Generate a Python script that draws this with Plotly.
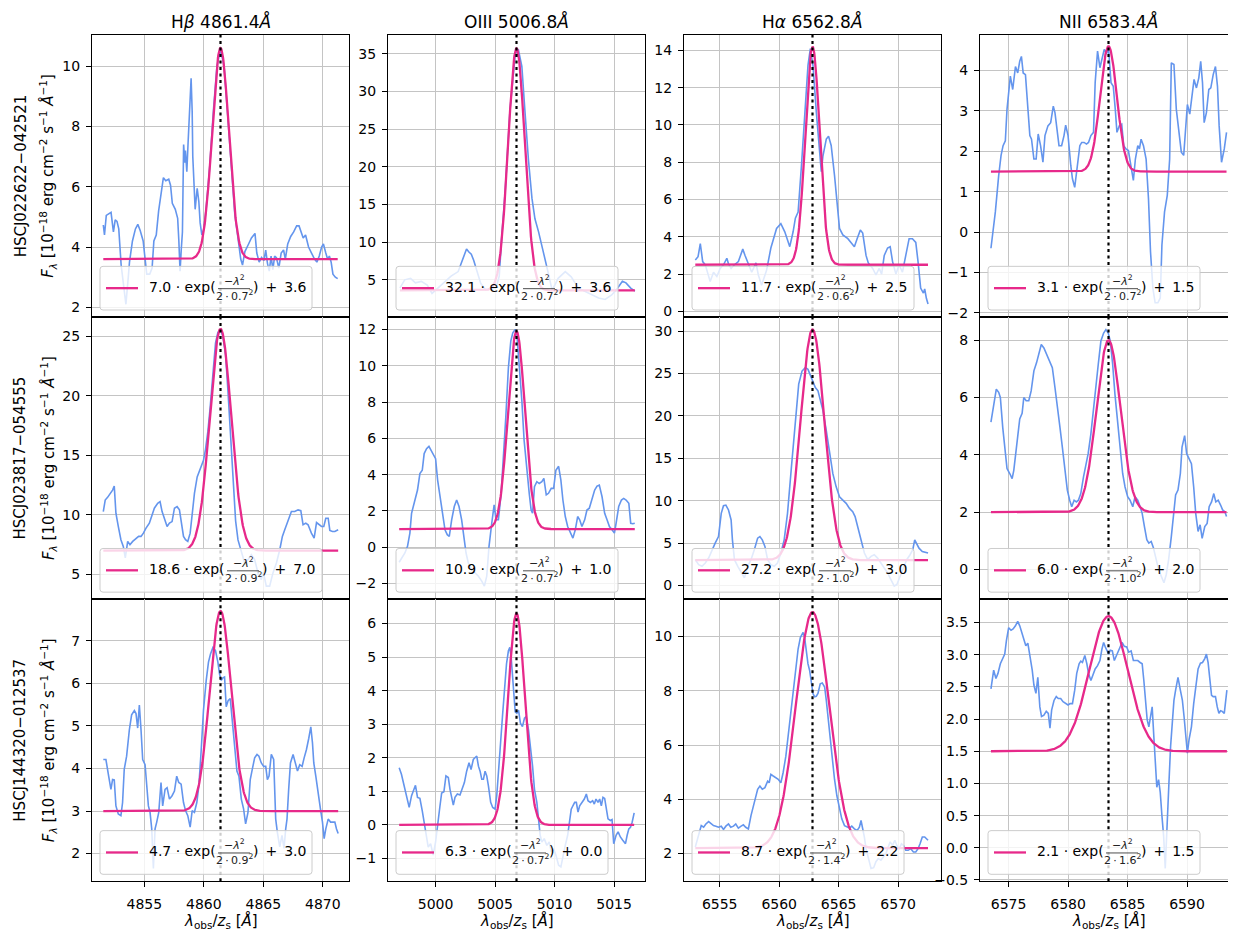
import numpy as np
import plotly.graph_objects as go
from plotly.subplots import make_subplots

# ---------------- values ----------------
line_titles = ["H<i>β</i> 4861.4<i>Å</i>", "OIII 5006.8<i>Å</i>",
               "H<i>α</i> 6562.8<i>Å</i>", "NII 6583.4<i>Å</i>"]
line_centres = [4861.4, 5006.8, 6562.8, 6583.4]
object_names = ["HSCJ022622−042521", "HSCJ023817−054555", "HSCJ144320−012537"]

# gaussian fit parameters from the legends (row by row)
fit_amp = [7.0, 32.1, 11.7, 3.1, 18.6, 10.9, 27.2, 6.0, 4.7, 6.3, 8.7, 2.1]
fit_sigma = [0.7, 0.7, 0.6, 0.7, 0.9, 0.7, 1.0, 1.0, 0.9, 0.7, 1.4, 1.6]
fit_offset = [3.6, 3.6, 2.5, 1.5, 7.0, 1.0, 3.0, 2.0, 3.0, 0.0, 2.2, 1.5]

# spectra: (wavelength, flux) pairs
spec_r1c1 = [(4851.55, 4.73), (4851.65, 4.4), (4851.8, 5.05), (4852.0, 5.1), (4852.2, 5.15), (4852.4, 4.5),
             (4852.55, 4.9), (4852.7, 4.85), (4852.85, 4.6), (4853.05, 3.4), (4853.2, 2.9), (4853.45, 2.1),
             (4853.65, 3.0), (4853.75, 3.5), (4854.0, 4.2), (4854.25, 4.6), (4854.45, 4.75), (4854.65, 4.55),
             (4854.9, 4.2), (4855.05, 3.7), (4855.2, 3.1), (4855.45, 3.1), (4855.65, 3.3), (4855.8, 4.2),
             (4856.0, 4.4), (4856.2, 5.2), (4856.45, 6.0), (4856.6, 6.3), (4856.8, 6.2), (4857.05, 6.25),
             (4857.2, 6.05), (4857.35, 5.45), (4857.6, 5.25), (4857.8, 4.95), (4857.9, 4.2), (4858.0, 3.2),
             (4858.1, 3.9), (4858.2, 4.5), (4858.3, 7.4), (4858.4, 6.8), (4858.45, 7.2), (4858.57, 6.5),
             (4858.68, 7.5), (4858.93, 9.6), (4859.02, 8.5), (4859.07, 7.0), (4859.27, 5.25), (4859.44, 5.95),
             (4859.58, 5.5), (4859.69, 4.8), (4859.83, 4.4), (4860.0, 4.6), (4860.2, 5.3), (4860.5, 6.7),
             (4860.8, 8.5), (4861.1, 10.0), (4861.4, 10.55), (4861.7, 10.0), (4862.0, 8.4), (4862.3, 6.6),
             (4862.6, 5.1), (4862.9, 4.2), (4863.1, 3.6), (4863.25, 3.4), (4863.45, 3.85), (4863.7, 4.05),
             (4864.0, 4.3), (4864.3, 4.45), (4864.45, 3.8), (4864.65, 3.5), (4864.85, 3.65), (4865.05, 3.55),
             (4865.2, 3.9), (4865.35, 3.45), (4865.5, 3.2), (4865.65, 3.7), (4865.8, 3.25), (4865.95, 3.7),
             (4866.1, 3.65), (4866.3, 3.3), (4866.5, 3.8), (4866.7, 3.9), (4866.85, 3.6), (4867.05, 4.1),
             (4867.3, 4.35), (4867.55, 4.5), (4867.8, 4.7), (4868.0, 4.7), (4868.15, 4.5), (4868.35, 4.3),
             (4868.55, 4.4), (4868.8, 4.0), (4869.05, 3.8), (4869.3, 3.6), (4869.5, 3.5), (4869.7, 3.7),
             (4869.9, 4.0), (4870.05, 4.1), (4870.25, 3.8), (4870.4, 3.6), (4870.55, 3.7), (4870.7, 3.5),
             (4870.85, 3.1), (4871.05, 3.0), (4871.25, 2.95)]

spec_r1c2 = [(4997.0, 3.9), (4997.4, 5.0), (4997.9, 5.2), (4998.3, 4.6), (4998.8, 4.8), (4999.3, 4.3),
             (4999.7, 3.2), (5000.2, 3.9), (5000.8, 4.8), (5001.3, 5.5), (5001.9, 6.1), (5002.3, 7.8),
             (5002.6, 9.1), (5002.8, 8.7), (5003.0, 8.4), (5003.2, 7.6), (5003.5, 6.2), (5003.8, 4.5),
             (5004.2, 3.7), (5004.7, 3.8), (5005.1, 4.0), (5005.35, 5.5), (5005.55, 10.5), (5005.85, 16.8),
             (5006.25, 27.5), (5006.7, 35.0), (5006.95, 35.6), (5007.25, 33.3), (5007.5, 27.6), (5007.8, 21.0),
             (5008.1, 15.8), (5008.35, 13.1), (5008.65, 11.4), (5008.9, 9.6), (5009.2, 7.4), (5009.5, 5.7),
             (5009.8, 3.6), (5010.3, 5.2), (5010.9, 6.1), (5011.4, 5.4), (5012.0, 3.9), (5012.5, 3.5),
             (5013.0, 3.2), (5013.7, 2.6), (5014.25, 2.4), (5014.8, 3.0), (5015.2, 3.7), (5015.7, 4.8),
             (5016.0, 4.6), (5016.4, 3.9), (5016.75, 3.5)]

spec_r1c3 = [(6552.95, 2.76), (6553.18, 2.93), (6553.37, 3.64), (6553.57, 2.67), (6553.79, 2.5), (6554.2, 1.6),
             (6554.48, 2.1), (6554.76, 1.87), (6555.04, 2.3), (6555.32, 2.5), (6555.6, 2.85), (6555.74, 2.55),
             (6555.96, 2.3), (6556.24, 2.5), (6556.57, 2.67), (6556.94, 3.34), (6557.13, 3.0), (6557.41, 2.5),
             (6557.69, 2.1), (6558.05, 2.6), (6558.25, 1.95), (6558.52, 1.4), (6558.94, 2.2), (6559.3, 3.4),
             (6559.78, 4.45), (6560.14, 4.7), (6560.47, 4.27), (6560.89, 3.47), (6561.17, 4.27), (6561.36, 5.0),
             (6561.59, 5.33), (6561.87, 7.8), (6562.14, 10.5), (6562.42, 13.2), (6562.62, 14.1), (6562.84, 13.2),
             (6563.12, 10.7), (6563.4, 8.2), (6563.54, 7.5), (6563.68, 8.35), (6563.96, 9.25), (6564.15, 9.4),
             (6564.37, 8.9), (6564.65, 7.3), (6564.87, 5.7), (6565.07, 4.45), (6565.35, 4.1), (6565.77, 3.9),
             (6566.1, 3.64), (6566.32, 3.47), (6566.55, 3.9), (6566.82, 4.36), (6567.02, 4.2), (6567.3, 3.0),
             (6567.49, 2.6), (6567.86, 2.3), (6568.13, 1.96), (6568.41, 2.3), (6568.61, 2.0), (6568.83, 3.0),
             (6569.11, 3.4), (6569.33, 3.47), (6569.53, 2.67), (6569.81, 2.0), (6570.08, 2.5), (6570.36, 2.1),
             (6570.64, 3.0), (6570.92, 3.9), (6571.2, 3.9), (6571.48, 3.7), (6571.67, 2.67), (6571.89, 1.25),
             (6572.12, 0.98), (6572.23, 1.2), (6572.37, 0.7), (6572.51, 0.4)]

spec_r1c4 = [(6573.52, -0.4), (6573.89, 0.5), (6574.17, 1.4), (6574.37, 1.9), (6574.54, 2.14), (6574.73, 2.26),
             (6574.87, 3.04), (6575.01, 3.45), (6575.15, 3.86), (6575.35, 3.53), (6575.58, 4.1), (6575.77, 3.94),
             (6575.94, 4.23), (6576.08, 4.35), (6576.23, 3.94), (6576.42, 3.9), (6576.62, 3.04), (6576.79, 2.39),
             (6576.93, 2.3), (6577.13, 1.81), (6577.32, 1.81), (6577.49, 2.43), (6577.69, 2.14), (6577.89, 1.73),
             (6578.06, 2.39), (6578.31, 2.63), (6578.54, 2.71), (6578.76, 3.12), (6578.9, 2.96), (6579.1, 2.47),
             (6579.24, 2.14), (6579.46, 2.14), (6579.66, 2.39), (6579.8, 2.65), (6580.0, 2.39), (6580.23, 1.65),
             (6580.37, 1.32), (6580.56, 1.11), (6580.79, 1.65), (6580.99, 2.14), (6581.15, 2.22), (6581.35, 2.22),
             (6581.55, 2.18), (6581.72, 2.22), (6581.92, 2.39), (6582.14, 2.47), (6582.28, 3.7), (6582.48, 4.48),
             (6582.68, 4.07), (6582.85, 4.27), (6583.04, 4.52), (6583.24, 4.43), (6583.41, 4.52), (6583.61, 3.7),
             (6583.8, 3.61), (6583.97, 3.04), (6584.11, 2.47), (6584.31, 2.63), (6584.51, 2.67), (6584.68, 2.14),
             (6584.87, 2.06), (6585.07, 2.02), (6585.3, 1.57), (6585.49, 1.28), (6585.66, 1.81), (6585.86, 2.14),
             (6586.0, 2.06), (6586.14, 2.3), (6586.34, 2.14), (6586.56, 1.81), (6586.76, 0.83), (6586.93, -0.48),
             (6587.13, -1.39), (6587.32, -1.75), (6587.55, -1.75), (6587.75, -1.63), (6587.89, -0.32),
             (6588.11, 0.5), (6588.34, 0.91), (6588.54, 1.81), (6588.68, 4.19), (6588.9, 4.15), (6589.1, 3.04),
             (6589.32, 2.47), (6589.52, 1.98), (6589.72, 1.9), (6589.92, 2.63), (6590.03, 3.16), (6590.23, 2.92),
             (6590.42, 3.37), (6590.59, 3.78), (6590.79, 3.57), (6590.99, 3.82), (6591.15, 4.23), (6591.3, 3.7),
             (6591.44, 2.71), (6591.63, 2.96), (6591.83, 3.53), (6592.0, 3.57), (6592.2, 3.9), (6592.39, 4.1),
             (6592.56, 3.61), (6592.7, 2.63), (6592.9, 1.73), (6593.13, 2.06), (6593.32, 2.47)]

spec_r2c1 = [(4851.55, 10.28), (4851.71, 11.25), (4851.91, 11.47), (4852.13, 11.8), (4852.33, 12.08),
             (4852.47, 12.42), (4852.61, 10.14), (4852.81, 9.03), (4853.03, 7.92), (4853.23, 7.36), (4853.4, 6.4),
             (4853.6, 7.78), (4853.79, 7.5), (4854.02, 7.78), (4854.3, 8.06), (4854.52, 8.2), (4854.72, 8.2),
             (4854.92, 8.47), (4855.14, 8.89), (4855.42, 9.31), (4855.65, 10.0), (4855.84, 10.56), (4856.12, 10.97),
             (4856.32, 11.11), (4856.49, 10.28), (4856.71, 9.58), (4856.91, 9.03), (4857.11, 9.31), (4857.33, 9.44),
             (4857.53, 10.56), (4857.75, 10.69), (4857.95, 10.42), (4858.12, 9.31), (4858.29, 8.2), (4858.46, 7.92),
             (4858.65, 7.78), (4858.85, 8.47), (4859.02, 10.14), (4859.21, 11.8), (4859.44, 13.19), (4859.63, 13.75),
             (4859.83, 14.31), (4859.97, 14.58), (4860.14, 15.5), (4860.34, 17.0), (4860.53, 19.0), (4860.76, 22.0),
             (4860.98, 24.4), (4861.18, 25.3), (4861.38, 25.5), (4861.6, 25.0), (4861.83, 23.4), (4862.02, 20.5),
             (4862.25, 16.5), (4862.45, 13.0), (4862.67, 9.5), (4862.87, 7.9), (4863.06, 7.2), (4863.23, 6.8),
             (4863.43, 5.97), (4863.71, 6.25), (4863.99, 6.67), (4864.27, 6.25), (4864.55, 5.14), (4864.83, 4.58),
             (4865.0, 5.2), (4865.25, 4.03), (4865.53, 4.03), (4865.81, 5.14), (4866.1, 5.97), (4866.38, 7.08),
             (4866.6, 8.2), (4866.8, 8.75), (4867.08, 9.44), (4867.36, 10.28), (4867.64, 10.28), (4867.92, 10.42),
             (4868.15, 10.36), (4868.34, 9.17), (4868.57, 9.31), (4868.76, 9.17), (4869.04, 8.47), (4869.27, 8.06),
             (4869.47, 9.36), (4869.69, 9.17), (4869.89, 9.03), (4870.08, 9.03), (4870.25, 9.72), (4870.45, 9.72),
             (4870.59, 8.7), (4870.81, 8.61), (4871.01, 8.61), (4871.29, 8.75)]

spec_r2c2 = [(4996.94, -0.83), (4997.19, -0.59), (4997.42, -0.32), (4997.64, 0.05), (4997.84, 0.78),
             (4997.98, 1.87), (4998.12, 2.24), (4998.31, 2.78), (4998.48, 3.15), (4998.68, 4.06), (4998.88, 4.24),
             (4999.04, 5.16), (4999.24, 5.43), (4999.44, 5.56), (4999.61, 5.34), (4999.8, 5.07), (5000.0, 4.88),
             (5000.17, 3.7), (5000.37, 2.78), (5000.56, 1.87), (5000.79, 0.96), (5000.98, 0.69), (5001.15, 0.59),
             (5001.35, 1.51), (5001.57, 2.24), (5001.77, 2.6), (5001.97, 2.24), (5002.19, 1.51), (5002.39, 0.41),
             (5002.56, -0.32), (5002.75, -0.87), (5003.03, -1.23), (5003.31, -1.41), (5003.6, -1.6),
             (5003.88, -1.87), (5004.1, -2.14), (5004.3, -1.6), (5004.49, 0.05), (5004.72, 1.32), (5004.92, 2.33),
             (5005.08, 1.51), (5005.28, 1.51), (5005.51, 2.97), (5005.7, 4.79), (5005.9, 7.16), (5006.12, 9.9),
             (5006.32, 11.36), (5006.49, 11.82), (5006.69, 12.0), (5006.83, 11.73), (5007.02, 10.27),
             (5007.25, 8.08), (5007.44, 5.89), (5007.67, 4.06), (5007.87, 2.97), (5008.03, 2.05), (5008.15, 1.87),
             (5008.31, 3.33), (5008.51, 3.61), (5008.71, 3.51), (5008.93, 3.61), (5009.1, 3.79), (5009.3, 2.88),
             (5009.49, 2.97), (5009.72, 3.24), (5009.92, 3.24), (5010.11, 4.24), (5010.34, 4.46), (5010.53, 3.7),
             (5010.7, 2.6), (5010.9, 1.69), (5011.1, 1.14), (5011.32, 0.78), (5011.54, 0.5), (5011.74, 0.96),
             (5011.94, 1.69), (5012.11, 1.51), (5012.3, 1.14), (5012.53, 1.51), (5012.72, 2.05), (5012.92, 2.15),
             (5013.15, 2.6), (5013.37, 3.15), (5013.57, 3.37), (5013.76, 3.42), (5013.99, 2.78), (5014.21, 1.87),
             (5014.41, 1.51), (5014.61, 1.14), (5014.83, 0.96), (5015.03, 0.78), (5015.17, 1.32), (5015.39, 2.24),
             (5015.62, 2.6), (5015.81, 2.69), (5016.01, 2.6), (5016.24, 2.42), (5016.4, 1.32), (5016.57, 1.29),
             (5016.74, 1.32)]

spec_r2c3 = [(6552.95, 3.05), (6553.23, 2.46), (6553.51, 2.27), (6553.79, 2.66), (6554.07, 3.24), (6554.35, 4.22),
             (6554.62, 5.0), (6554.9, 5.78), (6555.13, 8.52), (6555.32, 9.41), (6555.52, 9.49), (6555.74, 8.91),
             (6555.96, 7.73), (6556.07, 5.39), (6556.24, 3.05), (6556.52, 2.27), (6556.85, 1.48), (6557.08, 0.9),
             (6557.35, 2.27), (6557.63, 3.05), (6557.91, 4.22), (6558.19, 5.59), (6558.38, 5.78), (6558.58, 5.39),
             (6558.8, 4.61), (6559.03, 3.05), (6559.3, 2.46), (6559.58, 2.27), (6559.86, 2.66), (6560.14, 3.83),
             (6560.42, 5.39), (6560.7, 8.52), (6561.03, 14.0), (6561.36, 19.84), (6561.64, 23.75), (6561.92, 25.3),
             (6562.2, 25.7), (6562.42, 25.5), (6562.65, 24.73), (6562.84, 23.95), (6563.04, 23.36), (6563.26, 22.97),
             (6563.48, 21.8), (6563.68, 20.63), (6563.96, 18.28), (6564.23, 15.55), (6564.51, 13.2), (6564.79, 11.64),
             (6565.07, 10.47), (6565.35, 10.08), (6565.63, 9.69), (6565.91, 9.1), (6566.18, 8.71), (6566.38, 8.13),
             (6566.6, 6.95), (6566.88, 5.39), (6567.16, 3.83), (6567.44, 3.05), (6567.72, 3.44), (6567.99, 3.63),
             (6568.27, 3.24), (6568.55, 2.66), (6568.83, 2.07), (6569.11, 1.48), (6569.39, 0.7), (6569.67, -0.08),
             (6569.89, 0.12), (6570.17, 1.09), (6570.45, 1.88), (6570.72, 3.05), (6571.0, 3.63), (6571.23, 4.22),
             (6571.39, 5.39), (6571.56, 5.0), (6571.75, 4.41), (6572.03, 4.02), (6572.51, 3.83)]

spec_r2c4 = [(6573.52, 5.14), (6573.75, 5.77), (6573.97, 6.29), (6574.17, 6.18), (6574.31, 6.0), (6574.51, 4.96),
             (6574.68, 4.27), (6574.87, 3.52), (6575.1, 3.35), (6575.3, 3.17), (6575.44, 3.46), (6575.61, 4.04),
             (6575.77, 4.62), (6575.94, 5.25), (6576.14, 5.45), (6576.28, 6.0), (6576.48, 5.89), (6576.7, 5.89),
             (6576.9, 6.23), (6577.13, 6.93), (6577.35, 7.21), (6577.55, 7.56), (6577.75, 7.85), (6577.97, 7.73),
             (6578.2, 7.5), (6578.45, 7.27), (6578.68, 7.04), (6578.9, 6.35), (6579.1, 5.77), (6579.32, 4.96),
             (6579.52, 4.27), (6579.72, 3.46), (6579.94, 2.77), (6580.14, 2.42), (6580.31, 2.19), (6580.51, 2.42),
             (6580.7, 2.36), (6580.87, 2.42), (6581.07, 2.65), (6581.3, 3.23), (6581.49, 3.58), (6581.69, 4.04),
             (6581.92, 4.73), (6582.14, 5.66), (6582.34, 6.46), (6582.54, 7.16), (6582.76, 7.97), (6582.99, 8.25),
             (6583.18, 8.37), (6583.38, 8.25), (6583.55, 7.97), (6583.75, 7.16), (6583.94, 6.12), (6584.17, 5.08),
             (6584.39, 4.15), (6584.59, 3.35), (6584.79, 2.88), (6585.01, 2.54), (6585.21, 2.42), (6585.44, 2.19),
             (6585.63, 2.54), (6585.86, 2.42), (6586.06, 2.19), (6586.23, 1.96), (6586.42, 1.5), (6586.62, 1.04),
             (6586.79, 0.92), (6586.99, 0.98), (6587.18, 0.75), (6587.41, 0.34), (6587.61, 0.0), (6587.83, -0.23),
             (6588.06, -0.46), (6588.25, -0.18), (6588.45, 0.34), (6588.68, 1.15), (6588.87, 1.96), (6589.04, 2.6),
             (6589.24, 2.77), (6589.44, 3.35), (6589.58, 4.27), (6589.8, 4.67), (6589.97, 4.04), (6590.17, 3.87),
             (6590.37, 3.69), (6590.56, 2.88), (6590.73, 1.96), (6590.93, 1.33), (6591.1, 1.56), (6591.27, 1.09),
             (6591.49, 1.5), (6591.69, 1.61), (6591.86, 2.19), (6592.06, 2.36), (6592.25, 2.65), (6592.42, 2.36),
             (6592.62, 2.42), (6592.82, 2.25), (6592.99, 2.08), (6593.18, 2.02), (6593.32, 1.85)]

spec_r3c1 = [(4851.55, 4.21), (4851.77, 4.21), (4852.0, 3.82), (4852.19, 3.51), (4852.33, 3.74), (4852.47, 3.73),
             (4852.61, 3.12), (4852.81, 2.93), (4853.03, 2.89), (4853.17, 3.2), (4853.31, 3.98), (4853.51, 4.29),
             (4853.74, 4.91), (4853.93, 5.26), (4854.16, 5.36), (4854.3, 5.29), (4854.44, 4.95), (4854.58, 5.49),
             (4854.72, 4.91), (4854.86, 4.21), (4855.06, 4.09), (4855.2, 3.67), (4855.34, 3.12), (4855.48, 2.97),
             (4855.62, 2.58), (4855.76, 1.65), (4855.9, 2.58), (4856.04, 2.74), (4856.21, 2.97), (4856.4, 3.67),
             (4856.54, 3.12), (4856.74, 3.51), (4856.91, 3.55), (4857.11, 3.28), (4857.33, 3.36), (4857.53, 3.47),
             (4857.72, 3.82), (4857.89, 3.67), (4858.09, 3.63), (4858.29, 3.2), (4858.46, 3.01), (4858.65, 2.89),
             (4858.85, 2.62), (4859.02, 3.01), (4859.21, 2.97), (4859.41, 3.2), (4859.58, 3.59), (4859.78, 4.44),
             (4859.97, 5.37), (4860.2, 6.07), (4860.39, 6.5), (4860.56, 6.69), (4860.76, 6.84), (4860.98, 6.77),
             (4861.18, 6.5), (4861.32, 6.22), (4861.46, 6.07), (4861.6, 6.13), (4861.74, 6.15), (4861.88, 5.45),
             (4862.05, 5.6), (4862.22, 5.64), (4862.39, 5.14), (4862.58, 4.44), (4862.78, 3.94), (4862.95, 3.82),
             (4863.15, 3.28), (4863.34, 3.05), (4863.51, 2.7), (4863.71, 2.97), (4863.9, 3.74), (4864.07, 3.98),
             (4864.27, 4.25), (4864.47, 4.33), (4864.63, 4.29), (4864.83, 4.13), (4865.03, 4.05), (4865.2, 4.05),
             (4865.34, 3.74), (4865.48, 3.82), (4865.67, 4.33), (4865.87, 4.21), (4866.04, 2.81), (4866.18, 2.5),
             (4866.38, 2.16), (4866.57, 2.43), (4866.74, 2.12), (4866.88, 2.58), (4866.99, 2.81), (4867.13, 3.51),
             (4867.28, 4.13), (4867.5, 4.33), (4867.7, 4.13), (4867.87, 3.94), (4868.06, 4.09), (4868.26, 4.05),
             (4868.43, 4.25), (4868.62, 4.44), (4868.82, 4.71), (4868.99, 4.98), (4869.13, 4.6), (4869.24, 4.13),
             (4869.41, 3.82), (4869.61, 3.36), (4869.8, 3.05), (4869.97, 2.74), (4870.11, 2.35), (4870.25, 2.58),
             (4870.45, 2.81), (4870.65, 2.74), (4870.81, 2.74), (4871.01, 2.74), (4871.15, 2.58), (4871.29, 2.47)]

spec_r3c2 = [(4996.94, 1.7), (4997.13, 1.51), (4997.36, 1.16), (4997.56, 0.87), (4997.78, 0.52), (4997.98, 0.87),
             (4998.17, 1.06), (4998.31, 1.18), (4998.48, 0.82), (4998.68, 0.79), (4998.88, 0.42), (4999.04, 0.08),
             (4999.19, -0.31), (4999.38, -0.66), (4999.58, -0.56), (4999.8, -0.9), (5000.0, -0.51), (5000.17, 0.08),
             (5000.37, 0.57), (5000.51, 0.95), (5000.7, 0.99), (5000.87, 1.46), (5001.07, 1.41), (5001.21, 1.06),
             (5001.35, 0.77), (5001.49, 0.59), (5001.63, 0.82), (5001.83, 0.92), (5002.05, 0.89), (5002.25, 1.06),
             (5002.42, 1.26), (5002.61, 1.6), (5002.81, 1.85), (5002.98, 1.65), (5003.17, 1.95), (5003.31, 2.0),
             (5003.46, 2.05), (5003.6, 1.75), (5003.74, 1.6), (5003.88, 1.36), (5004.02, 1.36), (5004.16, 1.6),
             (5004.3, 1.46), (5004.44, 1.16), (5004.63, 0.67), (5004.8, 0.52), (5005.0, 0.47), (5005.14, 0.87),
             (5005.28, 1.46), (5005.42, 2.24), (5005.62, 3.23), (5005.79, 4.11), (5005.96, 4.8), (5006.12, 5.19),
             (5006.24, 5.29), (5006.35, 5.0), (5006.49, 4.41), (5006.6, 3.92), (5006.69, 3.37), (5006.83, 3.33),
             (5006.97, 3.42), (5007.13, 3.03), (5007.3, 2.93), (5007.47, 3.18), (5007.61, 3.23), (5007.81, 2.83),
             (5007.98, 2.34), (5008.15, 1.75), (5008.31, 1.06), (5008.51, 0.67), (5008.65, 0.18), (5008.79, -0.31),
             (5008.93, -0.51), (5009.13, -0.41), (5009.35, -0.61), (5009.55, -0.51), (5009.72, -0.8),
             (5009.92, -0.71), (5010.11, -0.9), (5010.34, -1.2), (5010.53, -1.25), (5010.7, -0.9), (5010.9, -0.61),
             (5011.1, -0.31), (5011.24, 0.08), (5011.4, 0.47), (5011.54, 0.57), (5011.69, 0.67), (5011.83, 0.67),
             (5011.97, 0.38), (5012.11, 0.57), (5012.3, 0.67), (5012.5, 0.77), (5012.67, 0.92), (5012.81, 0.72),
             (5013.01, 0.67), (5013.2, 0.72), (5013.34, 0.62), (5013.48, 0.77), (5013.65, 0.67), (5013.79, 0.77),
             (5013.93, 0.57), (5014.07, 0.82), (5014.21, 0.79), (5014.35, 0.47), (5014.49, 0.18), (5014.69, 0.13),
             (5014.83, 0.16), (5014.97, -0.56), (5015.17, -0.31), (5015.34, -0.21), (5015.53, -0.36),
             (5015.73, -0.46), (5015.96, -0.56), (5016.1, -0.31), (5016.24, -0.12), (5016.38, -0.07),
             (5016.52, 0.08), (5016.69, 0.36)]

spec_r3c3 = [(6552.95, 2.24), (6553.23, 2.67), (6553.45, 3.03), (6553.65, 2.97), (6553.84, 3.09), (6554.07, 3.18),
             (6554.29, 3.09), (6554.48, 3.03), (6554.68, 3.01), (6554.9, 2.97), (6555.13, 3.01), (6555.32, 2.89),
             (6555.52, 3.01), (6555.74, 3.09), (6555.93, 2.97), (6556.16, 3.01), (6556.35, 3.09), (6556.57, 2.94),
             (6556.8, 3.01), (6556.99, 3.06), (6557.19, 2.97), (6557.41, 2.91), (6557.63, 3.4), (6557.83, 3.76),
             (6558.02, 4.01), (6558.19, 4.37), (6558.38, 4.49), (6558.58, 4.37), (6558.8, 4.43), (6559.03, 4.67),
             (6559.16, 4.61), (6559.3, 4.92), (6559.5, 4.86), (6559.72, 4.8), (6559.92, 4.74), (6560.14, 4.61),
             (6560.33, 4.98), (6560.56, 5.59), (6560.75, 6.32), (6560.97, 7.05), (6561.17, 7.9), (6561.36, 8.75),
             (6561.59, 9.54), (6561.78, 9.96), (6562.01, 10.15), (6562.14, 9.96), (6562.28, 9.48), (6562.42, 8.99),
             (6562.56, 8.75), (6562.7, 8.26), (6562.84, 7.9), (6562.98, 7.78), (6563.12, 7.8), (6563.26, 7.9),
             (6563.45, 8.26), (6563.62, 8.29), (6563.82, 8.14), (6563.96, 7.65), (6564.09, 7.05), (6564.29, 6.32),
             (6564.46, 5.59), (6564.65, 4.74), (6564.85, 4.13), (6565.07, 3.64), (6565.26, 3.28), (6565.49, 3.03),
             (6565.71, 2.97), (6565.91, 2.94), (6566.1, 3.01), (6566.32, 2.91), (6566.55, 2.85), (6566.74, 2.97),
             (6566.88, 3.22), (6567.02, 2.97), (6567.16, 2.61), (6567.3, 2.18), (6567.49, 1.82), (6567.72, 1.45),
             (6567.94, 1.48), (6568.13, 1.7), (6568.33, 1.82), (6568.55, 1.76), (6568.77, 1.88), (6568.97, 2.0),
             (6569.16, 2.24), (6569.33, 2.43), (6569.53, 2.3), (6569.72, 2.49), (6569.89, 2.3), (6570.08, 2.18),
             (6570.28, 2.36), (6570.45, 2.3), (6570.64, 2.12), (6570.84, 2.12), (6571.06, 2.18), (6571.28, 2.06),
             (6571.48, 2.06), (6571.67, 2.18), (6571.84, 2.36), (6572.03, 2.61), (6572.23, 2.61), (6572.4, 2.55),
             (6572.51, 2.49)]

spec_r3c4 = [(6573.52, 2.47), (6573.75, 2.76), (6573.94, 2.63), (6574.11, 2.71), (6574.31, 2.86), (6574.51, 2.94),
             (6574.68, 3.01), (6574.82, 3.22), (6575.01, 3.42), (6575.21, 3.38), (6575.38, 3.4), (6575.58, 3.45),
             (6575.77, 3.52), (6575.94, 3.45), (6576.08, 3.37), (6576.28, 3.27), (6576.45, 3.14), (6576.62, 3.18),
             (6576.79, 2.99), (6576.99, 2.76), (6577.13, 2.53), (6577.3, 2.4), (6577.46, 2.65), (6577.63, 2.19),
             (6577.77, 2.04), (6577.97, 2.06), (6578.17, 2.12), (6578.34, 2.09), (6578.48, 1.86), (6578.62, 2.14),
             (6578.82, 2.29), (6579.01, 2.35), (6579.18, 2.32), (6579.38, 2.32), (6579.58, 2.27), (6579.8, 2.24),
             (6580.0, 2.22), (6580.17, 2.24), (6580.37, 2.24), (6580.56, 2.45), (6580.73, 2.71), (6580.93, 2.86),
             (6581.07, 2.9), (6581.21, 2.88), (6581.41, 2.99), (6581.58, 2.86), (6581.72, 2.71), (6581.92, 2.6),
             (6582.11, 2.71), (6582.28, 2.78), (6582.48, 2.83), (6582.68, 2.91), (6582.85, 3.09), (6582.99, 3.19),
             (6583.13, 3.12), (6583.27, 3.06), (6583.41, 3.01), (6583.55, 3.07), (6583.72, 3.06), (6583.89, 2.91),
             (6584.08, 2.99), (6584.23, 3.06), (6584.39, 3.14), (6584.54, 3.19), (6584.73, 3.13), (6584.93, 3.12),
             (6585.1, 3.04), (6585.3, 3.06), (6585.49, 2.91), (6585.66, 2.91), (6585.86, 2.91), (6586.06, 2.88),
             (6586.23, 2.86), (6586.37, 2.6), (6586.51, 2.29), (6586.65, 1.99), (6586.79, 1.88), (6586.93, 2.04),
             (6587.07, 2.19), (6587.21, 1.73), (6587.32, 1.32), (6587.46, 0.94), (6587.61, 1.06), (6587.75, 0.86),
             (6587.89, 0.5), (6588.03, 0.19), (6588.17, -0.32), (6588.34, 0.29), (6588.48, 1.01), (6588.62, 1.58),
             (6588.76, 1.99), (6588.9, 2.29), (6589.04, 2.45), (6589.24, 2.65), (6589.44, 2.45), (6589.61, 2.29),
             (6589.75, 2.04), (6589.89, 1.73), (6590.03, 1.47), (6590.17, 1.68), (6590.37, 1.88), (6590.56, 2.24),
             (6590.73, 2.5), (6590.93, 2.78), (6591.13, 2.87), (6591.3, 2.88), (6591.49, 2.94), (6591.63, 3.01),
             (6591.77, 2.88), (6591.92, 2.6), (6592.06, 2.37), (6592.2, 2.35), (6592.39, 2.35), (6592.54, 2.19),
             (6592.68, 2.09), (6592.82, 2.13), (6592.96, 2.12), (6593.13, 2.09), (6593.24, 2.29), (6593.35, 2.45)]

spectra = [spec_r1c1, spec_r1c2, spec_r1c3, spec_r1c4,
           spec_r2c1, spec_r2c2, spec_r2c3, spec_r2c4,
           spec_r3c1, spec_r3c2, spec_r3c3, spec_r3c4]

# axis limits and tick spacing of every panel
y_ranges = [[1.68, 11.04], [0.08, 37.5], [-0.30, 14.84], [-2.10, 4.885],
            [2.94, 26.6], [-2.86, 12.69], [-1.6, 31.68], [-1.03, 8.81],
            [1.35, 7.98], [-1.68, 6.73], [0.98, 11.38], [-0.52, 3.865]]
y_dticks = [2, 5, 2, 1, 5, 2, 5, 2, 1, 1, 2, 0.5]
x_half_width = 10.8

# ---------------- layout, in screen pixels of the reference ----------------
SCREEN_W, SCREEN_H = 1236, 942
OFF = 8                       # default page body margin around the plot div
W, H = SCREEN_W - 2 * OFF, SCREEN_H - 2 * OFF
AX_LEFT = [92, 388, 684, 980]
AX_W = 257
AX_TOP = [35, 319.3, 603.6]
AX_H = 284.3

BLUE = "#6495ED"
PINK = "#E7298A"
GRID = "#c4c4c4"
FONT = "DejaVu Sans"


def fx(p):
    return (p - OFF) / W


def fy(p):
    return 1 - (p - OFF) / H


def rounded_rect(x0, y0, x1, y1, r):
    return (f"M {fx(x0 + r)},{fy(y0)} L {fx(x1 - r)},{fy(y0)} Q {fx(x1)},{fy(y0)} {fx(x1)},{fy(y0 + r)} "
            f"L {fx(x1)},{fy(y1 - r)} Q {fx(x1)},{fy(y1)} {fx(x1 - r)},{fy(y1)} "
            f"L {fx(x0 + r)},{fy(y1)} Q {fx(x0)},{fy(y1)} {fx(x0)},{fy(y1 - r)} "
            f"L {fx(x0)},{fy(y0 + r)} Q {fx(x0)},{fy(y0)} {fx(x0 + r)},{fy(y0)} Z")


fig = make_subplots(rows=3, cols=4)

vlines, boxes, marks = [], [], []
notes = []

for r in range(3):
    for c in range(4):
        k = r * 4 + c
        n = k + 1
        wl = [p[0] for p in spectra[k]]
        fl = [p[1] for p in spectra[k]]
        fig.add_trace(go.Scatter(x=wl, y=fl, mode="lines",
                                 line=dict(color=BLUE, width=1.6)), row=r + 1, col=c + 1)
        grid = np.linspace(wl[0], wl[-1], 600)
        model = fit_amp[k] * np.exp(-(grid - line_centres[c]) ** 2 / (2 * fit_sigma[k] ** 2)) + fit_offset[k]
        fig.add_trace(go.Scatter(x=grid, y=model, mode="lines",
                                 line=dict(color=PINK, width=2.3)), row=r + 1, col=c + 1)

        x0 = AX_LEFT[c]
        x1 = min(x0 + AX_W, W + OFF)
        top = AX_TOP[r]
        bot = top + AX_H
        bottom_row = r == 2
        xlo = line_centres[c] - x_half_width
        xhi = xlo + 2 * x_half_width * (x1 - x0) / AX_W
        fig.update_xaxes(domain=[fx(x0), fx(x1)], range=[xlo, xhi],
                         dtick=5, tick0=0, showgrid=True, gridcolor=GRID, gridwidth=1,
                         zeroline=False, showline=True, linecolor="black", linewidth=1, mirror=True,
                         ticks="outside" if bottom_row else "", ticklen=5, tickcolor="black",
                         showticklabels=bottom_row, ticklabelstandoff=5,
                         tickfont=dict(family=FONT, size=14, color="black"),
                         row=r + 1, col=c + 1)
        fig.update_yaxes(domain=[fy(bot), fy(top)], range=y_ranges[k], dtick=y_dticks[k], tick0=0,
                         tickformat=".1f" if y_dticks[k] < 1 else "",
                         showgrid=True, gridcolor=GRID, gridwidth=1,
                         zeroline=False, showline=True, linecolor="black", linewidth=1, mirror=c < 3,
                         ticks="outside", ticklen=5, tickcolor="black", ticklabelstandoff=3,
                         tickfont=dict(family=FONT, size=14, color="black"),
                         row=r + 1, col=c + 1)

        xr = "x" if n == 1 else f"x{n}"
        yr = "y" if n == 1 else f"y{n}"
        vlines.append(dict(type="line", xref=xr, yref=yr + " domain", x0=line_centres[c], x1=line_centres[c],
                           y0=0, y1=1, line=dict(color="black", width=2.2, dash="3px,3.5px"), layer="above"))

        # legend box drawn by hand (the fraction needs stacked text)
        wide = fit_amp[k] >= 10
        shift = 9 if wide else 0
        L = x0 + 8
        bw = 222 if wide else 212
        b1 = bot - 7
        b0 = b1 - 44
        bc = (b0 + b1) / 2
        boxes.append(dict(type="path", xref="paper", yref="paper", path=rounded_rect(L, b0, L + bw, b1, 3),
                          fillcolor="rgba(255,255,255,0.8)", line=dict(color="#cccccc", width=1), layer="above"))
        marks.append(dict(type="line", xref="paper", yref="paper", x0=fx(L + 6), x1=fx(L + 38),
                          y0=fy(bc), y1=fy(bc), line=dict(color=PINK, width=2.3), layer="above"))
        marks.append(dict(type="line", xref="paper", yref="paper", x0=fx(L + 118 + shift), x1=fx(L + 150 + shift),
                          y0=fy(bc + 0.5), y1=fy(bc + 0.5), line=dict(color="#222222", width=0.8), layer="above"))
        notes.append(dict(x=fx(L + 118 + shift), y=fy(bc - 1), xanchor="right", yanchor="middle",
                          text=f"{fit_amp[k]:.1f} · exp(", font=dict(family=FONT, size=14, color="black")))
        notes.append(dict(x=fx(L + 134 + shift), y=fy(bc - 8), xanchor="center", yanchor="middle",
                          text="−<i>λ</i><sup>2</sup>", font=dict(family=FONT, size=11, color="#222222")))
        notes.append(dict(x=fx(L + 134 + shift), y=fy(bc + 7.5), xanchor="center", yanchor="middle",
                          text=f"2\u2009·\u2009{fit_sigma[k]:.1f}<sup>2</sup>",
                          font=dict(family=FONT, size=11, color="#222222")))
        notes.append(dict(x=fx(L + 151 + shift), y=fy(bc - 1), xanchor="left", yanchor="middle",
                          text=f")\u2002+\u2002{fit_offset[k]:.1f}", font=dict(family=FONT, size=14, color="black")))

# column titles and x labels
for c in range(4):
    cx = AX_LEFT[c] + AX_W / 2
    notes.append(dict(x=fx(cx), y=fy(22), xanchor="center", yanchor="middle", text=line_titles[c],
                      font=dict(family=FONT, size=17, color="black")))
    notes.append(dict(x=fx(cx), y=fy(927.5), xanchor="center", yanchor="middle",
                      text="<i>λ</i><sub>obs</sub>/<i>z</i><sub>s</sub> [<i>Å</i>]",
                      font=dict(family=FONT, size=15, color="black")))

# row labels
for r in range(3):
    cy = AX_TOP[r] + AX_H / 2
    notes.append(dict(x=fx(20.5), y=fy(cy), xanchor="center", yanchor="middle", textangle=-90,
                      text=object_names[r], font=dict(family=FONT, size=15, color="black")))
    notes.append(dict(x=fx(48), y=fy(cy), xanchor="center", yanchor="middle", textangle=-90,
                      text="<i>F</i><sub><i>λ</i></sub> [10<sup>−18</sup> erg cm<sup>−2</sup> s<sup>−1</sup> "
                           "<i>Å</i><sup>−1</sup>]",
                      font=dict(family=FONT, size=15, color="black")))

for a in notes:
    a.update(xref="paper", yref="paper", showarrow=False)

fig.update_layout(width=W, height=H, margin=dict(l=0, r=0, t=0, b=0),
                  plot_bgcolor="white", paper_bgcolor="white", showlegend=False,
                  shapes=vlines + boxes + marks, annotations=notes,
                  font=dict(family=FONT, color="black"))

fig.write_html("out.html")
